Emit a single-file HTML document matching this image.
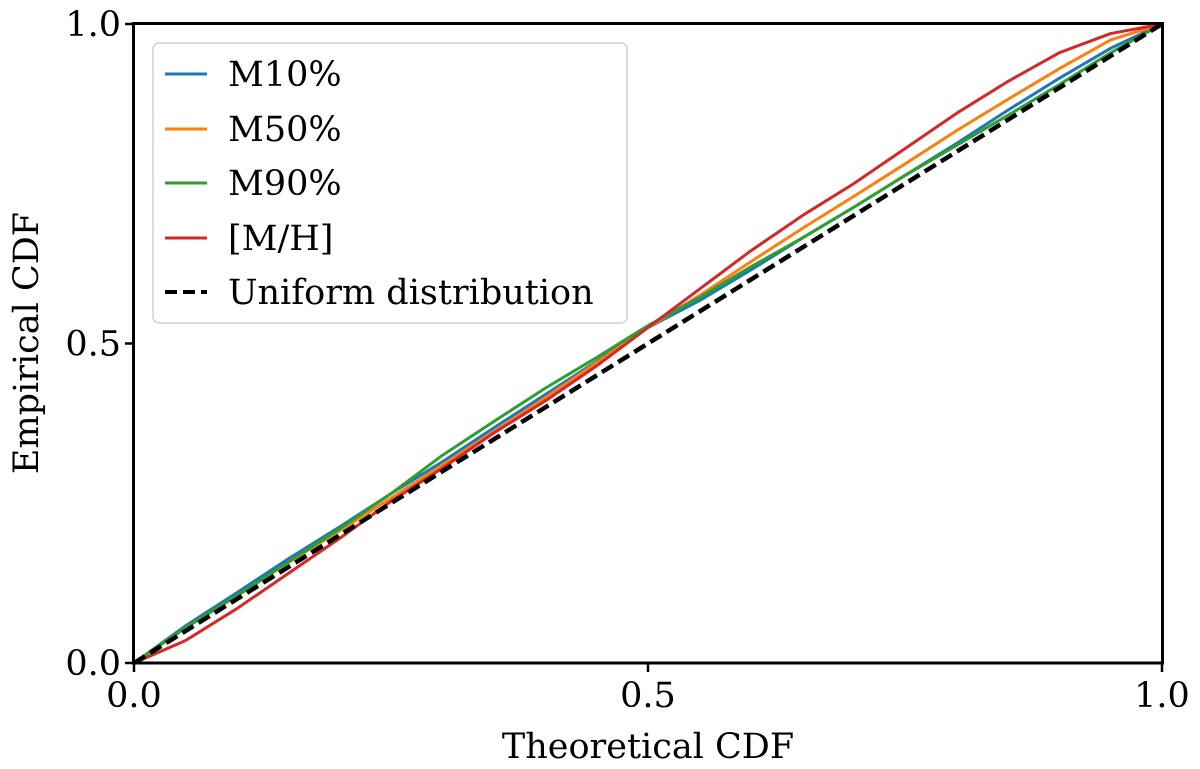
<!DOCTYPE html>
<html><head><meta charset="utf-8"><style>
html,body{margin:0;padding:0;background:#fff}
svg{display:block;font-family:"DejaVu Serif","Liberation Serif",serif}
</style></head><body>
<svg id="chart" width="1200" height="769" viewBox="0 0 1200 769">
<g id="lines"></g>
<rect x="133.5" y="23.5" width="1029" height="639.5" fill="none" stroke="#000" stroke-width="3"/>
<g id="ticks"></g>
<text x="648" y="758" font-size="35" text-anchor="middle">Theoretical CDF</text>
<text transform="translate(38,343) rotate(-90)" font-size="35" text-anchor="middle">Empirical CDF</text>
<g>
<rect x="153" y="43" width="474" height="280" rx="6" fill="#fff" fill-opacity="0.85" stroke="#d0d0d0" stroke-width="1.5"/>
<g><line x1="165" y1="74" x2="207" y2="74" stroke="#1f77b4" stroke-width="3"/><text x="228" y="86" font-size="35">M10%</text></g>
<g><line x1="165" y1="129" x2="207" y2="129" stroke="#ff7f0e" stroke-width="3"/><text x="228" y="141" font-size="35">M50%</text></g>
<g><line x1="165" y1="183" x2="207" y2="183" stroke="#2ca02c" stroke-width="3"/><text x="228" y="195" font-size="35">M90%</text></g>
<g><line x1="165" y1="238" x2="207" y2="238" stroke="#d62728" stroke-width="3"/><text x="228" y="250" font-size="35">[M/H]</text></g>
<g><line x1="165" y1="292" x2="207" y2="292" stroke="#000" stroke-width="4" stroke-dasharray="12,6"/><text x="228" y="304" font-size="35">Uniform distribution</text></g>
</g>
</svg>
<script>
const tVals=[0,.05,.1,.15,.2,.25,.3,.35,.4,.45,.5,.55,.6,.65,.7,.75,.8,.85,.9,.95,1];
const m10=[0,.058,.11,.163,.213,.265,.315,.368,.42,.472,.525,.567,.615,.665,.713,.763,.813,.865,.915,.962,1];
const m50=[0,.055,.105,.157,.207,.258,.31,.362,.415,.47,.525,.575,.628,.68,.73,.781,.833,.882,.93,.975,1];
const m90=[0,.055,.105,.158,.21,.265,.325,.378,.43,.478,.528,.572,.62,.665,.713,.763,.81,.857,.905,.955,1];
const mh=[0,.035,.085,.14,.195,.253,.305,.36,.41,.465,.525,.585,.645,.7,.75,.805,.86,.91,.955,.985,1];
const tickVals=[0,0.5,1];
const tickLabels=["0.0","0.5","1.0"];
const NS="http://www.w3.org/2000/svg";
const X0=134,X1=1162,Y0=663,Y1=24;
const sx=v=>X0+v*(X1-X0), sy=v=>Y0-v*(Y0-Y1);
const g=document.getElementById('lines');
function poly(xs,ys,color,w,dash,name){
  const p=document.createElementNS(NS,'polyline');
  p.setAttribute('points',xs.map((x,i)=>sx(x)+','+sy(ys[i])).join(' '));
  p.setAttribute('fill','none');p.setAttribute('stroke',color);p.setAttribute('stroke-width',w);
  p.setAttribute('stroke-linejoin','round');
  if(dash)p.setAttribute('stroke-dasharray',dash);
  
  
  g.appendChild(p);
}
poly(tVals,m10,'#1f77b4',3,null,'line-m10');
poly(tVals,m50,'#ff7f0e',3,null,'line-m50');
poly(tVals,m90,'#2ca02c',3,null,'line-m90');
poly(tVals,mh,'#d62728',3,null,'line-mh');
poly([0,1],[0,1],'#000',4.5,'13,6','line-uniform');
const tg=document.getElementById('ticks');
tickVals.forEach((v,i)=>{
  const a=document.createElementNS(NS,'line');
  a.setAttribute('x1',sx(v));a.setAttribute('x2',sx(v));a.setAttribute('y1',Y0);a.setAttribute('y2',Y0+9);
  a.setAttribute('stroke','#000');a.setAttribute('stroke-width',2.5);
  
  
  tg.appendChild(a);
  const t=document.createElementNS(NS,'text');
  t.setAttribute('x',sx(v));t.setAttribute('y',Y0+44);t.setAttribute('font-size','35');t.setAttribute('text-anchor','middle');
  t.textContent=tickLabels[i];
  
  
  tg.appendChild(t);
  const b=document.createElementNS(NS,'line');
  b.setAttribute('x1',X0-9);b.setAttribute('x2',X0);b.setAttribute('y1',sy(v));b.setAttribute('y2',sy(v));
  b.setAttribute('stroke','#000');b.setAttribute('stroke-width',2.5);
  
  
  tg.appendChild(b);
  const u=document.createElementNS(NS,'text');
  u.setAttribute('x',X0-13);u.setAttribute('y',sy(v)+12);u.setAttribute('font-size','35');u.setAttribute('text-anchor','end');
  u.textContent=tickLabels[i];
  
  
  tg.appendChild(u);
});
</script>
</body></html>
